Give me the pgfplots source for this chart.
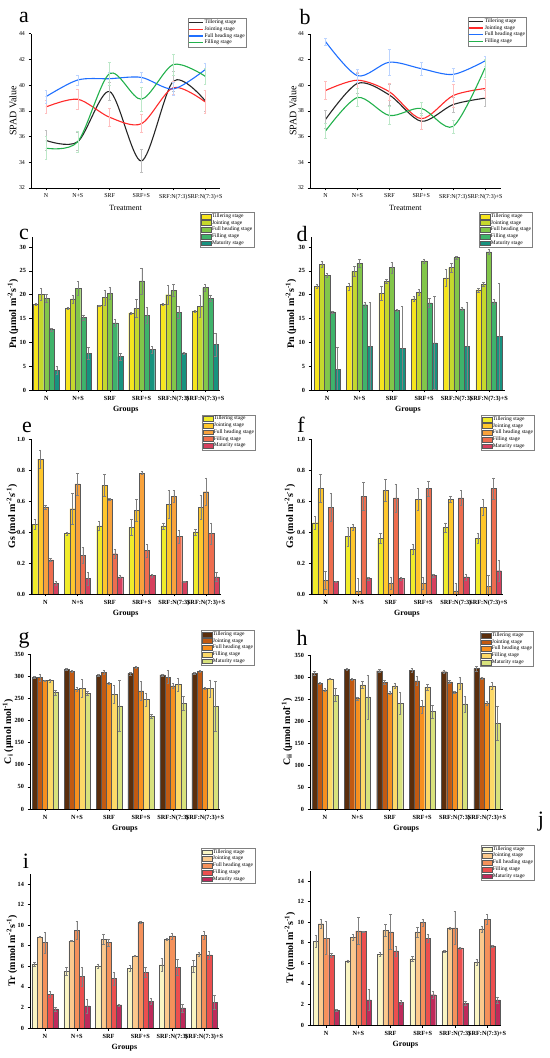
\documentclass[border=0pt]{standalone}
\usepackage{pgfplots}
\pgfplotsset{compat=1.18}
\usepackage{pgfplotstable}
\usepackage{fontspec}
\setmainfont{Liberation Serif}

\definecolor{lJ}{HTML}{FF2A2A}
\definecolor{lF}{HTML}{1F6FFF}
\definecolor{lFi}{HTML}{22B14C}
\definecolor{gT}{HTML}{F7E51E}
\definecolor{gJ}{HTML}{C5D82D}
\definecolor{gF}{HTML}{82C64A}
\definecolor{gFi}{HTML}{3FB36B}
\definecolor{gM}{HTML}{17927F}
\definecolor{oT}{HTML}{F0EC2A}
\definecolor{oJ}{HTML}{FFC72C}
\definecolor{oF}{HTML}{F8A23C}
\definecolor{oFi}{HTML}{EE6D4F}
\definecolor{oM}{HTML}{D6405E}
\definecolor{bT}{HTML}{5B2E0C}
\definecolor{bJ}{HTML}{C25A12}
\definecolor{bF}{HTML}{F78F1F}
\definecolor{bFi}{HTML}{FDD968}
\definecolor{bM}{HTML}{D8E27C}
\definecolor{rT}{HTML}{FAF5C3}
\definecolor{rJ}{HTML}{FBC98D}
\definecolor{rF}{HTML}{F4915B}
\definecolor{rFi}{HTML}{EC4F4F}
\definecolor{rM}{HTML}{BE2A5B}

\pgfplotstableread{
x T Te J Je F Fe Fi Fie
0 35.7 0.8 38.3 0.5 39.1 0.5 35.1 0.9
1 35.6 0.7 38.9 0.8 40.4 0.4 35.6 0.8
2 39.5 0.7 37.5 0.7 40.5 0.5 40.9 0.9
3 34.1 0.9 37.0 0.7 40.6 0.4 38.9 0.9
4 40.3 0.8 39.8 0.5 39.7 0.5 41.6 0.8
5 38.8 0.8 38.7 0.9 41.2 0.5 40.7 0.6
}\tabA
\pgfplotstableread{
x T Te J Je F Fe Fi Fie
0 37.35 0.7 39.6 0.7 43.4 0.3 36.45 0.6
1 40.15 0.8 40.4 0.6 40.75 0.5 39.05 0.7
2 39.25 0.8 39.5 0.7 41.8 1.0 37.65 0.7
3 37.2 0.6 37.4 0.8 41.3 0.5 38.2 0.5
4 38.5 0.6 39.2 0.9 40.85 0.5 36.8 0.5
5 39.0 0.6 39.75 0.7 41.9 0.4 41.35 0.7
}\tabB
\pgfplotstableread{
x T Te J Je F Fe Fi Fie M Me
0 18.0 0.2 20.1 1.2 19.3 0.8 12.7 0.3 4.1 0.8
1 17.2 0.2 19.1 0.9 21.4 1.4 15.2 0.6 7.7 1.2
2 17.7 0.2 19.4 1.5 20.3 1.2 14.1 0.8 7.0 0.7
3 16.2 0.2 17.1 1.9 22.9 2.7 15.7 1.6 8.5 0.7
4 18.0 0.2 20.0 2.0 20.9 1.2 16.3 1.2 7.8 0.2
5 16.6 0.2 17.5 2.3 21.5 0.7 19.3 0.7 9.6 2.4
}\tabC
\pgfplotstableread{
x T Te J Je F Fe Fi Fie M Me
0 21.8 0.5 26.4 0.6 24.1 0.4 16.4 0.2 4.4 4.5
1 21.7 0.7 24.9 1.0 26.6 0.8 17.9 0.5 9.2 9.2
2 20.3 1.4 22.8 0.4 25.7 1.1 16.7 0.2 8.8 8.8
3 19.1 0.5 20.5 0.6 27.1 0.4 18.3 1.0 9.9 9.8
4 23.5 1.8 25.7 0.9 27.8 0.3 17.0 0.3 9.2 9.2
5 21.0 0.4 22.2 0.5 29.0 0.5 18.5 0.5 11.2 11.2
}\tabD
\pgfplotstableread{
x T Te J Je F Fe Fi Fie M Me
0 0.45 0.03 0.87 0.06 0.56 0.01 0.22 0.01 0.07 0.01
1 0.39 0.01 0.55 0.10 0.71 0.07 0.25 0.05 0.10 0.04
2 0.44 0.03 0.70 0.07 0.61 0.005 0.26 0.03 0.11 0.01
3 0.43 0.05 0.54 0.07 0.78 0.01 0.28 0.04 0.12 0.01
4 0.44 0.02 0.58 0.09 0.63 0.04 0.37 0.04 0.08 0.005
5 0.40 0.02 0.56 0.08 0.66 0.09 0.39 0.07 0.11 0.03
}\tabE
\pgfplotstableread{
x T Te J Je F Fe Fi Fie M Me
0 0.46 0.04 0.68 0.09 0.09 0.06 0.56 0.09 0.08 0.005
1 0.37 0.06 0.43 0.02 0.02 0.08 0.63 0.09 0.10 0.01
2 0.36 0.03 0.67 0.07 0.07 0.04 0.62 0.09 0.10 0.01
3 0.29 0.03 0.61 0.07 0.07 0.04 0.68 0.05 0.12 0.01
4 0.43 0.03 0.61 0.02 0.02 0.05 0.62 0.05 0.11 0.02
5 0.36 0.03 0.56 0.05 0.05 0.07 0.68 0.07 0.15 0.07
}\tabF
\pgfplotstableread{
x T Te J Je F Fe Fi Fie M Me
0 297 2 297 8 290 2 290 3 263 5
1 316 2 311 2 270 5 273 20 261 4
2 302 2 309 5 284 2 259 20 233 57
3 306 3 320 3 267 22 247 15 209 5
4 303 2 298 15 278 5 281 15 239 15
5 306 2 311 2 272 2 272 20 232 57
}\tabG
\pgfplotstableread{
x T Te J Je F Fe Fi Fie M Me
0 309 5 286 2 271 4 296 2 259 15
1 318 3 295 2 251 4 282 8 255 50
2 314 3 288 4 264 3 280 5 240 25
3 315 4 291 10 233 15 277 6 222 15
4 312 4 289 3 265 2 286 14 239 18
5 319 5 298 2 240 5 280 8 195 38
}\tabH
\pgfplotstableread{
x T Te J Je F Fe Fi Fie M Me
0 6.2 0.2 8.85 0.05 8.3 1.0 3.3 0.3 1.85 0.2
1 5.5 0.4 8.45 0.05 9.5 0.9 5.0 0.9 2.15 0.7
2 6.05 0.2 8.65 0.5 8.3 0.3 4.8 0.6 2.25 0.1
3 5.8 0.3 7.0 0.05 10.3 0.1 5.4 0.5 2.6 0.3
4 6.15 0.6 8.65 0.1 8.95 0.3 5.9 0.8 1.95 0.4
5 6.0 0.6 7.2 0.2 9.0 0.4 7.1 0.4 2.5 0.7
}\tabI
\pgfplotstableread{
x T Te J Je F Fe Fi Fie M Me
0 8.15 0.6 9.85 0.4 8.45 1.6 6.8 0.2 1.45 0.1
1 6.25 0.1 8.55 0.3 9.15 1.3 9.1 0.05 2.45 1.0
2 6.9 0.2 9.2 0.6 9.05 1.7 7.2 0.5 2.2 0.2
3 6.45 0.2 9.05 0.5 9.95 0.3 8.45 0.4 2.95 0.3
4 7.2 0.1 9.45 0.1 9.45 1.6 7.5 0.1 2.1 0.2
5 6.1 0.3 9.35 0.3 10.3 0.5 7.7 0.1 2.45 0.3
}\tabJ

\pgfplotsset{
  base/.style={scale only axis, axis lines=left,
    axis line style={-, line width=0.6pt, black},
    tick style={line width=0.5pt, black}, tick align=outside,
    major tick length=2.5bp,
    xtick={0,...,5},
    xticklabels={N,N+S,SRF,SRF+S,SRF:N(7:3),SRF:N(7:3)+S},
    /pgf/number format/assume math mode=true,
    every axis x label/.style={at={(axis description cs:0.5,0)}, anchor=center, yshift=-20bp},
    legend cell align=left,
    legend style={font=\fontsize{5.5}{6}\selectfont, draw=black!50, line width=0.3pt,
      inner sep=0.6pt, row sep=-0.3pt, anchor=north west,
      nodes={inner sep=0.9pt}},
  },
  ylab/.style={every axis y label/.style={at={([xshift=-#1]axis description cs:0,0.5)}, rotate=90, anchor=center}},
  lineax/.style={base, ymin=32, ymax=44, ytick={32,34,...,44},
    tick label style={font=\fontsize{6}{6.5}\selectfont},
    label style={font=\fontsize{8}{9}\selectfont},
    xlabel={Treatment}, ylabel={SPAD Value},
    legend image code/.code={\draw[##1] (0bp,0bp) -- (14bp,0bp);}},
  barax/.style={base, ybar=0pt, bar width=5.2bp, ymin=0,
    tick label style={font=\bfseries\fontsize{6.3}{6.8}\selectfont},
    label style={font=\bfseries\fontsize{8}{9}\selectfont},
    xlabel={Groups},
    legend image code/.code={\draw[##1] (0bp,-2.4bp) rectangle (10bp,2.4bp);}},
  leb/.style={error bars/.cd, y dir=both, y explicit,
    error bar style={#1, line width=0.5pt},
    error mark options={rotate=90, #1, mark size=1.4bp, line width=0.5pt}},
  eb/.style={draw=black!65, line width=0.3pt,
    error bars/.cd, y dir=both, y explicit,
    error bar style={black!50, line width=0.35pt},
    error mark options={rotate=90, black!50, mark size=1.2bp, line width=0.35pt}},
}

\newcommand{\fivebars}[6]{%
  \addplot[fill=#2, eb] table[x=x,y=T,y error=Te]{#1};
  \addplot[fill=#3, eb] table[x=x,y=J,y error=Je]{#1};
  \addplot[fill=#4, eb] table[x=x,y=F,y error=Fe]{#1};
  \addplot[fill=#5, eb] table[x=x,y=Fi,y error=Fie]{#1};
  \addplot[fill=#6, eb] table[x=x,y=M,y error=Me]{#1};
  \legend{Tillering stage,Jointing stage,Full heading stage,Filling stage,Maturity stage}
}
\newcommand{\fourlines}[1]{%
  \addplot[smooth, black!85, line width=1.1bp, leb=black!25] table[x=x,y=T,y error=Te]{#1};
  \addplot[smooth, lJ, line width=1.1bp, leb=lJ!30] table[x=x,y=J,y error=Je]{#1};
  \addplot[smooth, lF, line width=1.1bp, leb=lF!30] table[x=x,y=F,y error=Fe]{#1};
  \addplot[smooth, lFi, line width=1.1bp, leb=lFi!30] table[x=x,y=Fi,y error=Fie]{#1};
  \legend{Tillering stage,Jointing stage,Full heading stage,Filling stage}
}
\newcommand{\bfl}{\bfseries\fontsize{10}{11}\selectfont}

\begin{document}
\begin{tikzpicture}
\useasboundingbox (0,0) rectangle (550bp,1058bp);

% a
\begin{axis}[lineax, ylab=18bp, at={(31bp,870bp)}, anchor=south west,
  width=189bp, height=154.3bp, xmin=-0.47, xmax=5.47,
  legend style={at={(axis description cs:0.83,1.10)}}]
\fourlines{\tabA}
\end{axis}
% b
\begin{axis}[lineax, ylab=17bp, at={(310bp,870bp)}, anchor=south west,
  width=190.6bp, height=154bp, xmin=-0.49, xmax=5.49,
  legend style={at={(axis description cs:0.829,1.11)}}]
\fourlines{\tabB}
\end{axis}
% c
\begin{axis}[barax, ylab=19bp, at={(32bp,668bp)}, anchor=south west,
  width=187.6bp, height=152.5bp, xmin=-0.45, xmax=5.45, ymax=32,
  ytick={0,5,...,30}, ylabel={\bfl Pn (μmol m\textsuperscript{-2}s\textsuperscript{-1})},
  legend style={at={(axis description cs:0.896,1.167)}}]
\fivebars{\tabC}{gT}{gJ}{gF}{gFi}{gM}
\end{axis}
% d
\begin{axis}[barax, ylab=20bp, at={(311bp,668bp)}, anchor=south west,
  width=194bp, height=152.5bp, xmin=-0.5, xmax=5.5, ymax=32,
  ytick={0,5,...,30}, ylabel={\bfl Pn (μmol m\textsuperscript{-2}s\textsuperscript{-1})},
  legend style={at={(axis description cs:0.866,1.167)}}]
\fivebars{\tabD}{gT}{gJ}{gF}{gFi}{gM}
\end{axis}
% e
\begin{axis}[barax, ylab=19bp, at={(31bp,464bp)}, anchor=south west,
  width=189.5bp, height=155bp, xmin=-0.45, xmax=5.45, ymax=1,
  ytick={0,0.2,0.4,0.6,0.8,1},
  yticklabel style={/pgf/number format/.cd, fixed, fixed zerofill, precision=1},
  ylabel={\bfl Gs (mol m\textsuperscript{-2}s\textsuperscript{-1})},
  legend style={at={(axis description cs:0.902,1.158)}}]
\fivebars{\tabE}{oT}{oJ}{oF}{oFi}{oM}
\end{axis}
% f
\begin{axis}[barax, ylab=21bp, at={(311bp,464bp)}, anchor=south west,
  width=192bp, height=155bp, xmin=-0.45, xmax=5.45, ymax=1,
  ytick={0,0.2,0.4,0.6,0.8,1},
  yticklabel style={/pgf/number format/.cd, fixed, fixed zerofill, precision=1},
  ylabel={\bfl Gs (mol m\textsuperscript{-2}s\textsuperscript{-1})},
  legend style={at={(axis description cs:0.885,1.155)}}]
\fivebars{\tabF}{oT}{oJ}{oF}{oFi}{oM}
\end{axis}
% g
\begin{axis}[barax, ylab=22bp, at={(30bp,249bp)}, anchor=south west,
  width=190bp, height=155bp, xmin=-0.47, xmax=5.47, ymax=350,
  ytick={0,50,...,350},
  ylabel={\bfl C\textsubscript{i} (μmol mol\textsuperscript{-1})},
  legend style={at={(axis description cs:0.9,1.155)}}]
\fivebars{\tabG}{bT}{bJ}{bF}{bFi}{bM}
\end{axis}
% h
\begin{axis}[barax, ylab=23bp, at={(310bp,249bp)}, anchor=south west,
  width=192.5bp, height=154bp, xmin=-0.46, xmax=5.48, ymax=350,
  ytick={0,50,...,350},
  ylabel={\bfl C\textsubscript{ii} (μmol mol\textsuperscript{-1})},
  legend style={at={(axis description cs:0.883,1.155)}}]
\fivebars{\tabH}{bT}{bJ}{bF}{bFi}{bM}
\end{axis}
% i
\begin{axis}[barax, ylab=18bp, at={(30bp,30bp)}, anchor=south west,
  width=189bp, height=154.3bp, xmin=-0.47, xmax=5.47, ymax=15,
  ytick={0,2,...,14},
  ylabel={\bfl Tr (mmol m\textsuperscript{-2}s\textsuperscript{-1})},
  legend style={at={(axis description cs:0.905,1.167)}}]
\fivebars{\tabI}{rT}{rJ}{rF}{rFi}{rM}
\end{axis}
% j
\begin{axis}[barax, ylab=20bp, at={(310bp,33bp)}, anchor=south west,
  width=191bp, height=154.3bp, xmin=-0.5, xmax=5.43, ymax=15,
  ytick={0,2,...,14},
  ylabel={\bfl Tr (mmol m\textsuperscript{-2}s\textsuperscript{-1})},
  legend style={at={(axis description cs:0.895,1.167)}}]
\fivebars{\tabJ}{rT}{rJ}{rF}{rFi}{rM}
\end{axis}

\begin{scope}[every node/.style={font=\fontsize{22}{22}\selectfont, inner sep=0pt}]
\node at (24bp,1041bp) {a};
\node at (305bp,1041bp) {b};
\node at (24bp,824bp) {c};
\node at (302bp,824bp) {d};
\node at (27bp,631bp) {e};
\node at (301bp,633bp) {f};
\node at (24bp,418bp) {g};
\node at (302bp,420bp) {h};
\node at (26bp,197bp) {i};
\node at (541bp,236bp) {j};
\end{scope}
\end{tikzpicture}
\end{document}
